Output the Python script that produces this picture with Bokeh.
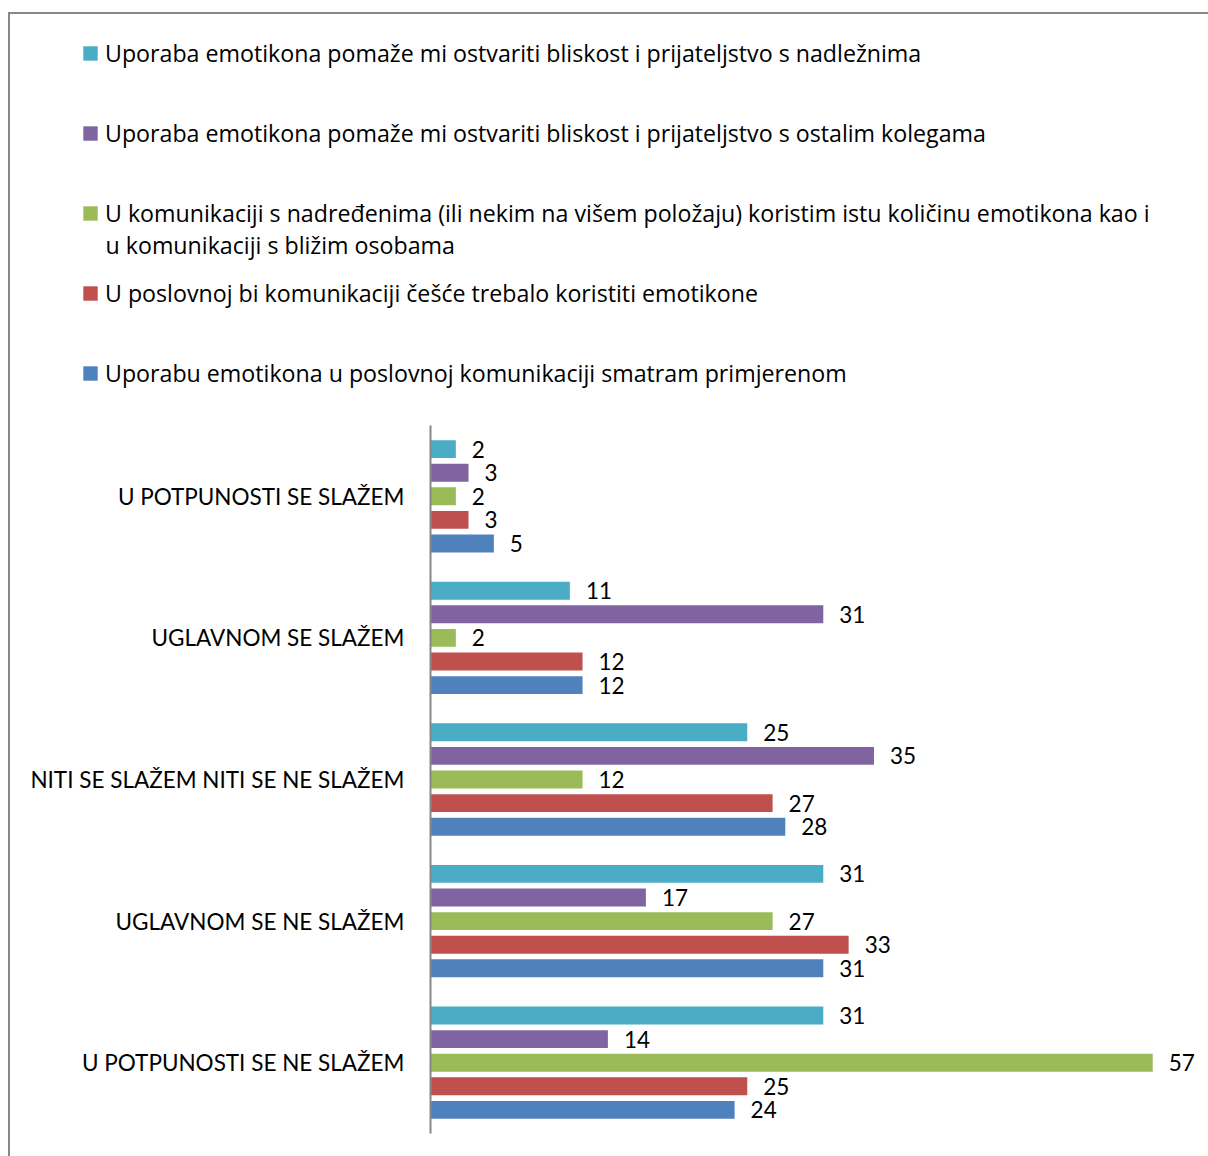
from bokeh.plotting import figure
from bokeh.models import (ColumnDataSource, FactorRange, CategoricalAxis, Legend,
                          LegendItem, Label, Range1d)
from bokeh.layouts import column
from bokeh.core.properties import value
from bokeh.embed import file_html
from bokeh.resources import INLINE

categories = ["U POTPUNOSTI SE SLAŽEM", "UGLAVNOM SE SLAŽEM",
              "NITI SE SLAŽEM NITI SE NE SLAŽEM", "UGLAVNOM SE NE SLAŽEM",
              "U POTPUNOSTI SE NE SLAŽEM"]

series_keys = ["s1", "s2", "s3", "s4", "s5"]
series_names = [
    "Uporaba emotikona pomaže mi ostvariti bliskost i prijateljstvo s nadležnima",
    "Uporaba emotikona pomaže mi ostvariti bliskost i prijateljstvo s ostalim kolegama",
    "U komunikaciji s nadređenima (ili nekim na višem položaju) koristim istu količinu emotikona kao i",
    "U poslovnoj bi komunikaciji češće trebalo koristiti emotikone",
    "Uporabu emotikona u poslovnoj komunikaciji smatram primjerenom",
]
legend_wrap_line = "u komunikaciji s bližim osobama"
series_colors = ["#4BACC6", "#8064A2", "#9BBB59", "#C0504D", "#4F81BD"]

nadleznima = [2, 11, 25, 31, 31]
kolegama = [3, 31, 35, 17, 14]
ista_kolicina = [2, 2, 12, 27, 57]
cesce = [3, 12, 27, 33, 25]
primjereno = [5, 12, 28, 31, 24]
series_values = [nadleznima, kolegama, ista_kolicina, cesce, primjereno]

FONT = "Lato"
FS = "22.5px"
LFONT = "Open Sans"
LFS = "23.2px"
W = 1198
H_LEG = 400
H_BAR = 742
LEG_LEFT = 71
LEG_TOP = 23

# ---------------- legend figure ----------------
leg_fig = figure(width=W, height=H_LEG, output_backend="svg", toolbar_location=None,
                 min_border_left=LEG_LEFT, min_border_top=LEG_TOP, min_border_right=0,
                 min_border_bottom=0,
                 x_range=Range1d(0, W - LEG_LEFT), y_range=Range1d(H_LEG - LEG_TOP, 0))
leg_fig.frame_align = False
leg_fig.axis.visible = False
leg_fig.grid.visible = False
leg_fig.outline_line_color = None
leg_fig.border_fill_color = "white"

leg_renderers = []
for color in series_colors:
    # zero-width placeholder bar: only used to give the legend its colour swatch
    r = leg_fig.hbar(y=[0], right=[0], left=0, height=0, fill_color=color,
                     line_color=None)
    leg_renderers.append(r)

legend = Legend(items=[LegendItem(label=n, renderers=[r])
                       for n, r in zip(series_names, leg_renderers)],
                location="top_left", orientation="vertical",
                glyph_width=18, glyph_height=18, label_height=32,
                spacing=48, padding=0, margin=0, label_standoff=6,
                border_line_color=None, background_fill_alpha=0,
                label_text_font=LFONT, label_text_font_size=LFS,
                label_text_color="#000000")
leg_fig.add_layout(legend, "center")
leg_fig.add_layout(Label(x=24, y=207, text=legend_wrap_line, text_baseline="middle",
                         text_font=LFONT, text_font_size=LFS, text_color="#000000"))

# ---------------- bar figure ----------------
factors = [(c, k) for c in reversed(categories) for k in reversed(series_keys)]

p = figure(width=W, height=H_BAR, output_backend="svg", toolbar_location=None,
           y_range=FactorRange(factors=factors, group_padding=1.0, factor_padding=0.0,
                               range_padding=0.5, range_padding_units="absolute"),
           x_range=Range1d(0, 60.77),
           min_border_left=420, min_border_top=11, min_border_bottom=23,
           min_border_right=8)
p.frame_align = False
p.extra_y_ranges = {"grp": FactorRange(factors=list(reversed(categories)))}

p.xaxis.visible = False
p.yaxis.visible = False
p.xgrid.visible = False
p.ygrid.visible = False
p.outline_line_color = None
p.border_fill_color = "white"

grp_axis = CategoricalAxis(y_range_name="grp")
grp_axis.axis_line_color = "#878787"
grp_axis.axis_line_width = 2
grp_axis.major_tick_line_color = None
grp_axis.minor_tick_line_color = None
grp_axis.major_tick_in = 0
grp_axis.major_tick_out = 0
grp_axis.major_label_standoff = 26
grp_axis.major_label_text_font = FONT
grp_axis.major_label_text_font_size = FS
grp_axis.major_label_text_color = "#000000"
p.add_layout(grp_axis, "left")

for key, vals, color in zip(series_keys, series_values, series_colors):
    src = ColumnDataSource(dict(y=[(c, key) for c in categories], x=vals,
                                t=[str(v) for v in vals]))
    p.hbar(y="y", right="x", left=0, height=0.76, source=src,
           fill_color=color, line_color=None)
    p.text(x="x", y="y", text="t", source=src, x_offset=16,
           text_baseline="middle", text_align="left",
           text_font=value(FONT), text_font_size=FS, text_color="#000000")

layout = column(leg_fig, p, spacing=0,
                styles={"margin": "12px 0 0 8px",
                        "border-top": "2px solid #878787",
                        "border-left": "2px solid #878787"})

open("out.html", "w").write(file_html(layout, INLINE))
